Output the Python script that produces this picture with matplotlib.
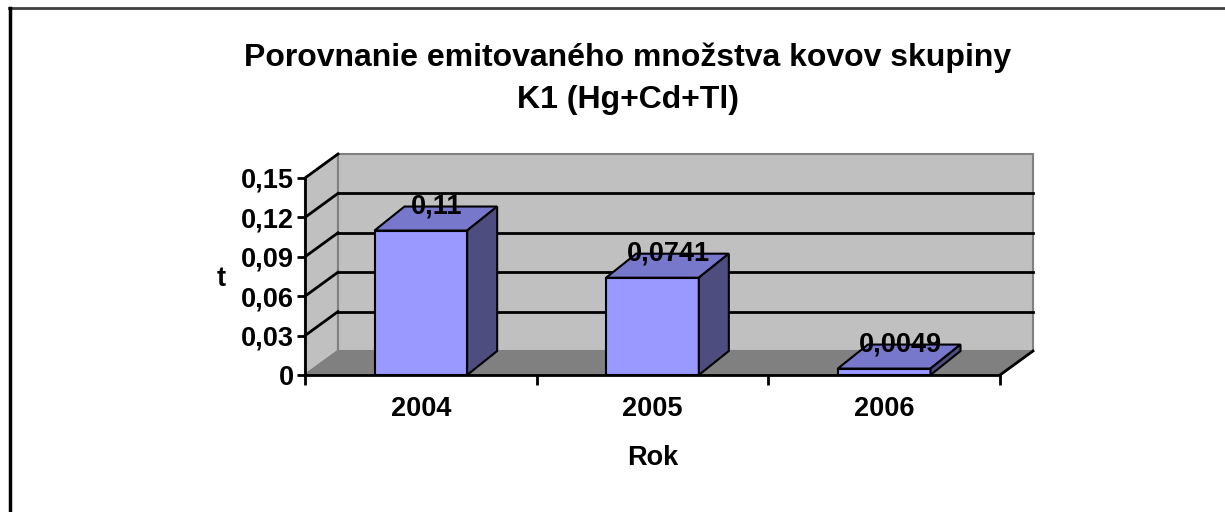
import matplotlib
matplotlib.use('Agg')
import matplotlib.pyplot as plt
from matplotlib.patches import Polygon
from matplotlib.lines import Line2D
from matplotlib.ticker import FuncFormatter

# data
years = ['2004', '2005', '2006']
values = [0.11, 0.0741, 0.0049]
labels = ['0,11', '0,0741', '0,0049']
yticks = [0, 0.03, 0.06, 0.09, 0.12, 0.15]

plt.rcParams['font.family'] = ['Liberation Sans', 'DejaVu Sans']
plt.rcParams['font.weight'] = 'bold'

W, H = 1225, 512
fig = plt.figure(figsize=(W / 100, H / 100), dpi=100)
fig.patch.set_facecolor('white')

# front plane of the 3d chart
ax = fig.add_axes([305 / W, (H - 375) / H, 695 / W, 197 / H])
ax.set_xlim(-0.5, 2.5)
ax.set_ylim(0, 0.15)
ax.patch.set_visible(False)

# depth offsets in data units
dx_wall, dy_wall = 33 / 231.7, 24 / 1313.3
dx_bar, dy_bar = 30 / 231.7, 24 / 1313.3
x0, x1, ytop = -0.5, 2.5, 0.15

# left wall
ax.add_patch(Polygon([(x0, 0), (x0, ytop), (x0 + dx_wall, ytop + dy_wall), (x0 + dx_wall, dy_wall)],
                     closed=True, fc='#c0c0c0', ec='#808080', lw=1.5, clip_on=False, zorder=0.5))
# back wall
ax.add_patch(Polygon([(x0 + dx_wall, dy_wall), (x0 + dx_wall, ytop + dy_wall),
                      (x1 + dx_wall, ytop + dy_wall), (x1 + dx_wall, dy_wall)],
                     closed=True, fc='#c0c0c0', ec='#808080', lw=1.5, clip_on=False, zorder=0.5))
# floor
ax.add_patch(Polygon([(x0, 0), (x1, 0), (x1 + dx_wall, dy_wall), (x0 + dx_wall, dy_wall)],
                     closed=True, fc='#808080', ec='#808080', lw=1, clip_on=False, zorder=0.6))
ax.plot([x1, x1 + dx_wall], [0, dy_wall], color='black', lw=2, clip_on=False, zorder=0.7)
ax.plot([x0, x0 + dx_wall], [0, dy_wall], color='#808080', lw=1.5, clip_on=False, zorder=0.7)

# gridlines on the back and left walls
for v in yticks[1:-1]:
    ax.plot([x0 + dx_wall, x1 + dx_wall], [v + dy_wall, v + dy_wall], color='black', lw=2,
            clip_on=False, zorder=0.8)
for v in yticks[1:]:
    ax.plot([x0, x0 + dx_wall], [v, v + dy_wall], color='black', lw=2, clip_on=False, zorder=0.8)

# 3d bars
bw = 0.4
for i, v in enumerate(values):
    l, r = i - bw / 2, i + bw / 2
    ax.add_patch(Polygon([(l, 0), (r, 0), (r, v), (l, v)], closed=True,
                         fc='#9999ff', ec='black', lw=1.5, clip_on=False, zorder=2))
    ax.add_patch(Polygon([(l, v), (r, v), (r + dx_bar, v + dy_bar), (l + dx_bar, v + dy_bar)], closed=True,
                         fc='#7777cc', ec='black', lw=1.5, clip_on=False, zorder=2))
    ax.add_patch(Polygon([(r, 0), (r + dx_bar, dy_bar), (r + dx_bar, v + dy_bar), (r, v)], closed=True,
                         fc='#4d4d80', ec='black', lw=1.5, clip_on=False, zorder=2))
    ax.text(i + 0.07, v + dy_bar, labels[i], ha='center', va='center', fontsize=19.5,
            fontweight='bold', zorder=3)

# axes
for s in ['top', 'right']:
    ax.spines[s].set_visible(False)
for s in ['left', 'bottom']:
    ax.spines[s].set_linewidth(2)
    ax.spines[s].set_zorder(2.5)
ax.set_yticks(yticks)
ax.yaxis.set_major_formatter(FuncFormatter(lambda v, p: ('%g' % round(v, 2)).replace('.', ',')))
ax.tick_params(axis='y', length=6, width=2, labelsize=19.5, pad=2)
ax.set_xticks([-0.5, 0.5, 1.5, 2.5])
ax.set_xticklabels([])
ax.set_xticks([0, 1, 2], minor=True)
ax.set_xticklabels(years, minor=True)
ax.tick_params(axis='x', which='major', length=7, width=2)
ax.tick_params(axis='x', which='minor', length=0, labelsize=19.5, pad=15)
for t in ax.get_yticklabels() + ax.get_xticklabels(minor=True):
    t.set_fontweight('bold')

# titles
fig.text(628 / W, 1 - 58 / H, 'Porovnanie emitovaného množstva kovov skupiny', ha='center', va='center',
         fontsize=23, fontweight='bold')
fig.text(628 / W, 1 - 100 / H, 'K1 (Hg+Cd+Tl)', ha='center', va='center', fontsize=23, fontweight='bold')
fig.text(653 / W, 1 - 458 / H, 'Rok', ha='center', va='center', fontsize=19.5, fontweight='bold')
fig.text(221 / W, 1 - 279 / H, 't', ha='center', va='center', fontsize=19.5, fontweight='bold')

# chart frame
fig.add_artist(Line2D([9 / W, 1], [1 - 8 / H, 1 - 8 / H], color='#404040', lw=2))
fig.add_artist(Line2D([10 / W, 10 / W], [1 - 8 / H, 0], color='black', lw=2.5))

fig.savefig('out.png', dpi=100)
